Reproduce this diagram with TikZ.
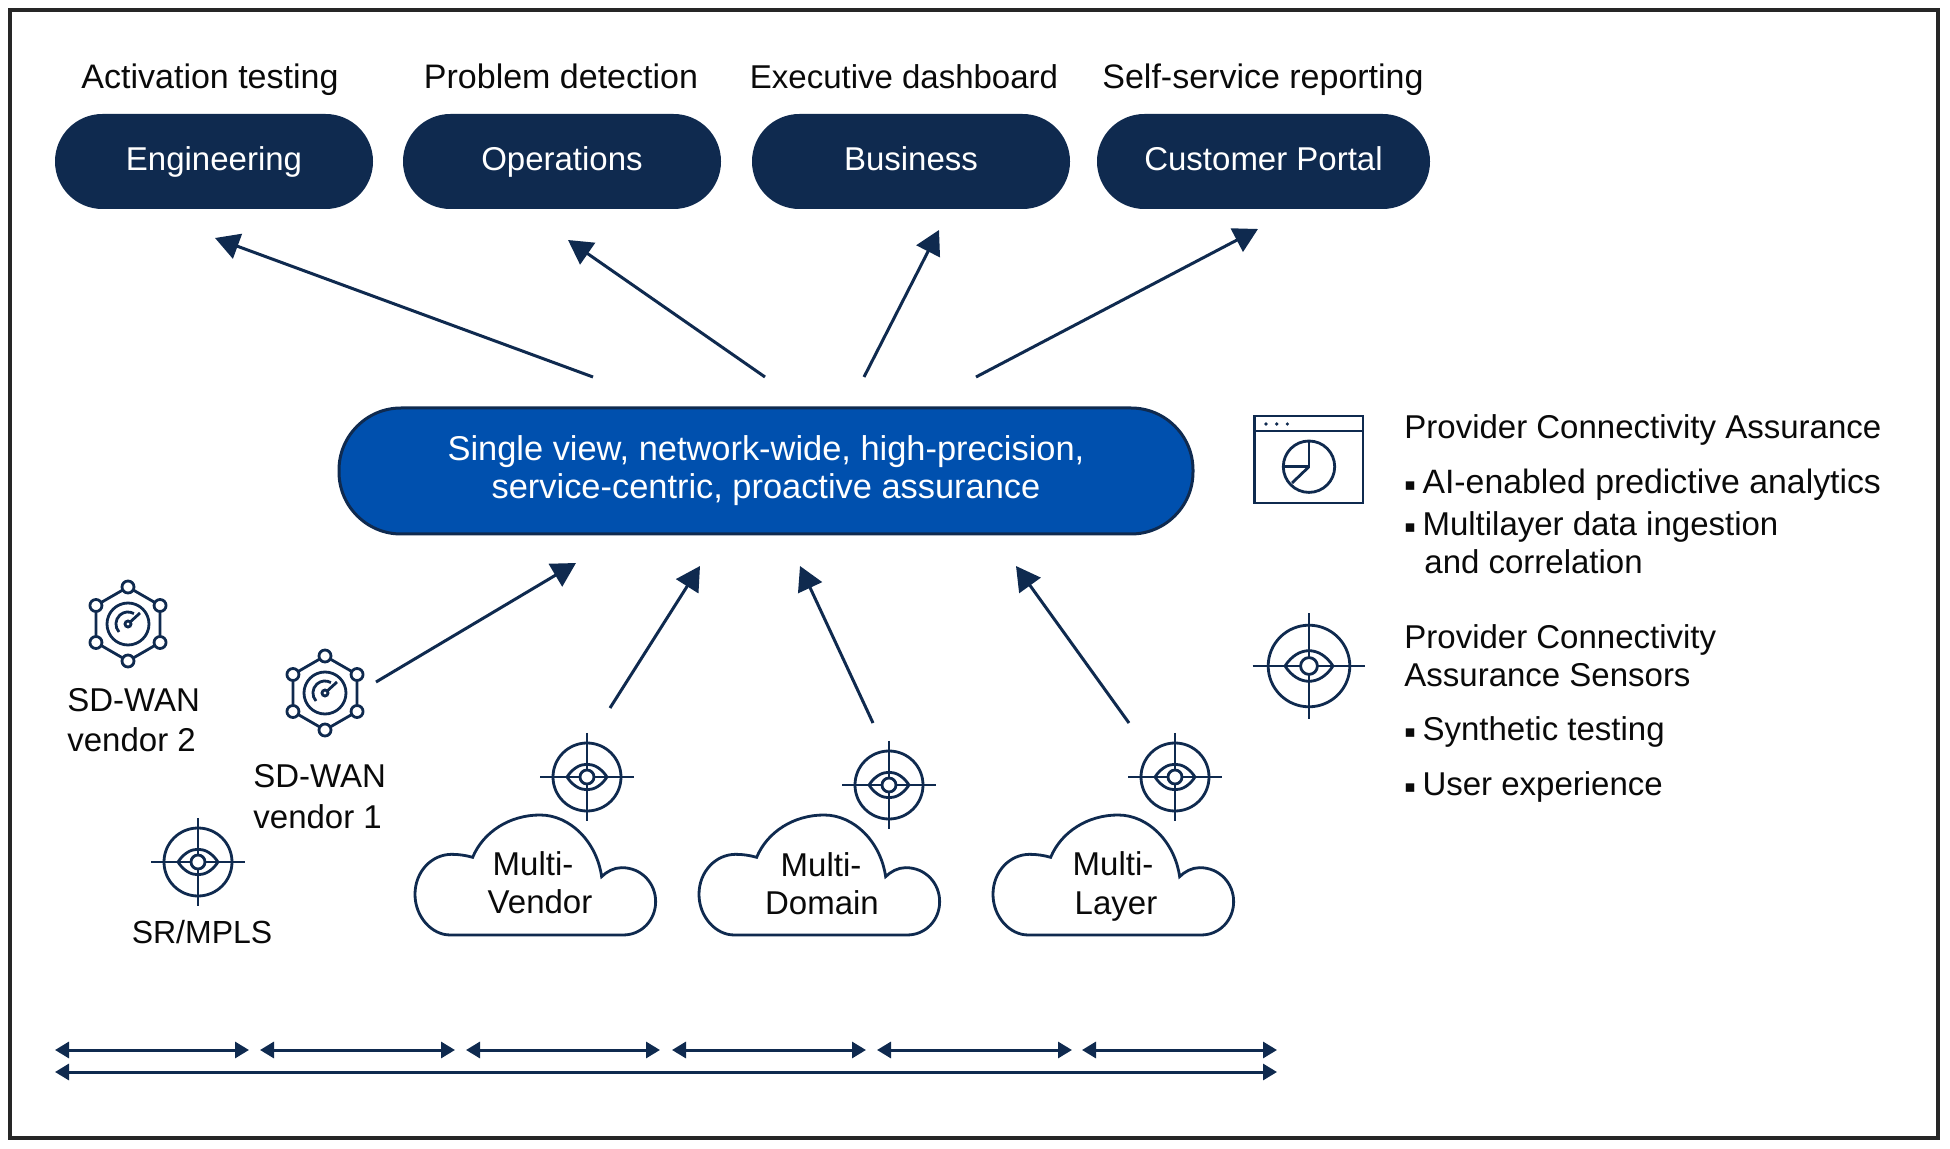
\documentclass[tikz,border=0pt]{standalone}
\usepackage{fontspec}
\setmainfont{Liberation Sans}
\newfontfamily\symfont{DejaVu Sans}
\usetikzlibrary{arrows.meta}
\definecolor{navy}{HTML}{0F2A4F}
\definecolor{royal}{HTML}{0050AE}
\definecolor{inktext}{HTML}{0A0A0A}
\newcommand{\bul}{\raisebox{1.6pt}{\symfont\fontsize{8.5pt}{15pt}\selectfont ▪}\hspace{3.3pt}}
\tikzset{
 x=0.5pt,y=-0.5pt,
 pill/.style={fill=navy,rounded corners=23.7pt,minimum height=47.5pt,text=white,font=\fontsize{16.5pt}{18pt}\selectfont,inner sep=0pt,text height=13pt,text depth=3.5pt},
 lbl/.style={text=inktext,font=\fontsize{16.5pt}{18pt}\selectfont,inner sep=0pt,yshift=-3.2pt},
 lblw/.style={lbl,anchor=mid west},
 lblc/.style={lbl,anchor=mid},
 lbltop/.style={lblc,font=\fontsize{17pt}{18pt}\selectfont},
 flow/.style={navy,line width=1.5pt,-{Triangle[length=12pt,width=13pt]}},
 span/.style={navy,line width=1.5pt,{Triangle[length=7pt,width=8pt]}-{Triangle[length=7pt,width=8pt]}},
 icon/.style={navy,line width=1.4pt},
 eyeicon/.pic={
  \draw[icon] (0,0) circle[radius=34];
  \draw[icon] (-47,0)--(47,0) (0,-44)--(0,44);
  \draw[icon] (-20,0) .. controls (-9,-17) and (9,-17) .. (20,0) .. controls (9,17) and (-9,17) .. (-20,0);
  \draw[icon,fill=white] (0,0) circle[radius=7];
 },
 hexicon/.pic={
  \draw[icon] (90:37)--(30:37)--(-30:37)--(-90:37)--(-150:37)--(150:37)--cycle;
  \foreach \a in {30,90,150,210,270,330}{\draw[icon,fill=white] (\a:37) circle[radius=6];}
  \draw[icon] (0,0) circle[radius=21];
  \draw[icon] (-9,8) arc[start angle=138,end angle=300,radius=12];
  \draw[icon] (0,0)--(12,-11);
  \draw[icon,fill=white] (0,0) circle[radius=3];
 },
 cloudicon/.pic={
  \draw[icon,fill=white] (150,645)--(670,645)
   .. controls (725,645) and (767,600) .. (767,545)
   .. controls (767,490) and (725,443) .. (665,443)
   .. controls (642,443) and (620,455) .. (605,470)
   .. controls (590,365) and (510,285) .. (420,285)
   .. controls (330,285) and (250,335) .. (218,412)
   .. controls (198,406) and (175,403) .. (155,403)
   .. controls (95,403) and (45,455) .. (45,523)
   .. controls (45,590) and (95,645) .. (150,645)--cycle;
 }
}
\begin{document}
\begin{tikzpicture}
\useasboundingbox (0,0) rectangle (1950,1149);
\fill[white] (0,0) rectangle (1950,1149);
\node[draw=black!85,line width=1.6pt,minimum width=964pt,minimum height=564pt,inner sep=0pt] (frame) at (974,574) {};
% top labels
\node[lbltop] (t1) at (210,77) {Activation testing};
\node[lbltop] (t2) at (561,77) {Problem detection};
\node[lbltop,font=\fontsize{16.5pt}{18pt}\selectfont] (t3) at (904,77) {Executive dashboard};
\node[lbltop] (t4) at (1263,77) {Self-service reporting};
% pills
\node[pill,minimum width=159pt] (eng) at (214,161.5) {Engineering};
\node[pill,minimum width=159pt] (ops) at (562,161.5) {Operations};
\node[pill,minimum width=159pt] (bus) at (911,161.5) {Business};
\node[pill,minimum width=166.5pt] (cus) at (1263.5,161.5) {Customer Portal};
% central
\node[fill=royal,draw=navy,line width=1.5pt,rounded corners=31pt,minimum width=427pt,minimum height=63pt,inner sep=0pt,text=white,align=center,font=\fontsize{17.2pt}{19pt}\selectfont] (hub) at (766,471) {Single view, network-wide, high-precision,\\service-centric, proactive assurance};
% flow end points
\coordinate (a1s) at (593,377); \coordinate (a1e) at (215,238);
\coordinate (a2s) at (765,377); \coordinate (a2e) at (568,240);
\coordinate (a3s) at (864,377); \coordinate (a3e) at (939,230);
\coordinate (a4s) at (976,377); \coordinate (a4e) at (1258,229);
\coordinate (b1s) at (376,682); \coordinate (b1e) at (576,563);
\coordinate (b2s) at (610,708); \coordinate (b2e) at (700,566);
\coordinate (b3s) at (873,723); \coordinate (b3e) at (800,566);
\coordinate (b4s) at (1129,723); \coordinate (b4e) at (1016,566);
\foreach \n in {a1,a2,a3,a4,b1,b2,b3,b4}{\draw[flow] (\n s)--(\n e);}
% left icons
\pic at (128,624) {hexicon};
\pic at (325,693) {hexicon};
\pic at (198,862) {eyeicon};
\node[lblw] (v2a) at (67,700) {SD-WAN};
\node[lblw] (v2b) at (67,740) {vendor 2};
\node[lblw] (v1a) at (253,776) {SD-WAN};
\node[lblw] (v1b) at (253,817) {vendor 1};
\node[lblc,font=\fontsize{16pt}{18pt}\selectfont] (sr) at (202,932) {SR/MPLS};
% clouds
\pic[scale=0.3333] at (400,720) {cloudicon};
\pic[scale=0.3333] at (684,720) {cloudicon};
\pic[scale=0.3333] at (978,720) {cloudicon};
\pic at (587,777) {eyeicon};
\pic at (889,785) {eyeicon};
\pic at (1175,777) {eyeicon};
\node[lblc] (c1a) at (533,864) {Multi-};
\node[lblc] (c1b) at (540,902) {Vendor};
\node[lblc] (c2a) at (821,865) {Multi-};
\node[lblc] (c2b) at (822,903) {Domain};
\node[lblc] (c3a) at (1113,864) {Multi-};
\node[lblc] (c3b) at (1116,903) {Layer};
% right panel
\draw[icon] (1254.5,416) rectangle (1363,503);
\draw[icon] (1254.5,431)--(1363,431);
\foreach \x in {1266,1276.7,1287.3}{\fill[navy] (\x,424) circle[radius=1.8];}
\draw[icon] (1309,466.7) circle[radius=25.7];
\draw[icon] (1309,441)--(1309,466.7)--(1283.3,466.7);
\draw[icon] (1309,466.7)--(1292,483);
\pic[scale=1.2] at (1309,666) {eyeicon};
\node[lblw] (r1) at (1404,427) {Provider Connectivity Assurance};
\node[lblw,font=\fontsize{16.9pt}{18pt}\selectfont] (r2) at (1404,482) {\bul AI-enabled predictive analytics};
\node[lblw] (r3) at (1404,524) {\bul Multilayer data ingestion};
\node[lblw] (r3b) at (1424,562) {and correlation};
\node[lblw] (r4) at (1404,637) {Provider Connectivity};
\node[lblw] (r4b) at (1404,675) {Assurance Sensors};
\node[lblw] (r5) at (1404,729) {\bul Synthetic testing};
\node[lblw] (r6) at (1404,784) {\bul User experience};
% spans
\coordinate (s0) at (55,1050); \coordinate (s0e) at (249,1050);
\coordinate (s1) at (260,1050); \coordinate (s1e) at (455,1050);
\coordinate (s2) at (466,1050); \coordinate (s2e) at (660,1050);
\coordinate (s3) at (672,1050); \coordinate (s3e) at (866,1050);
\coordinate (s4) at (877,1050); \coordinate (s4e) at (1072,1050);
\coordinate (s5) at (1082,1050); \coordinate (s5e) at (1277,1050);
\foreach \n in {s0,s1,s2,s3,s4,s5}{\draw[span] (\n)--(\n e);}
\coordinate (w0) at (55,1072); \coordinate (w1) at (1277,1072);
\draw[span] (w0)--(w1);
\end{tikzpicture}
\end{document}
